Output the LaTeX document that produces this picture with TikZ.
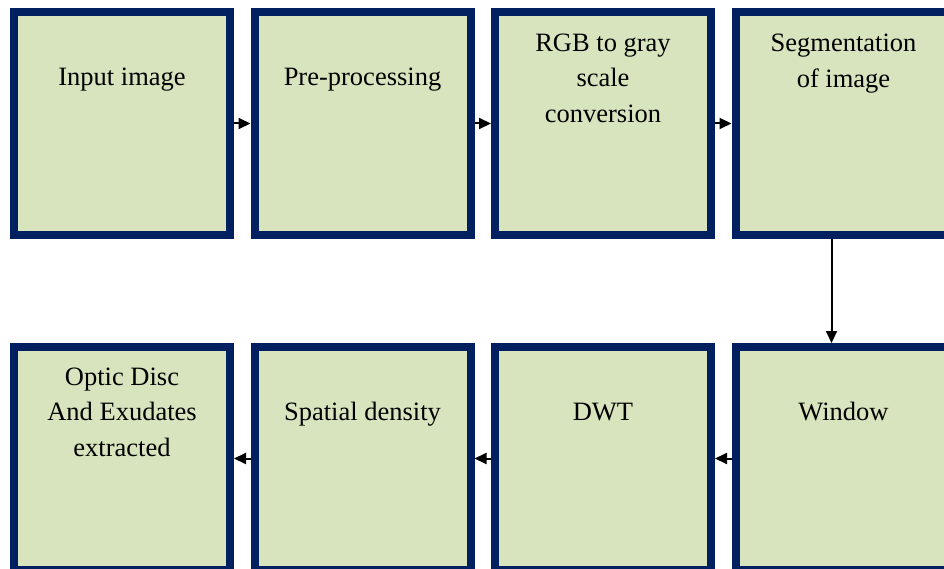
\documentclass[tikz,border=0pt]{standalone}
\usepackage{fontspec}
\setmainfont{Liberation Serif}
\usetikzlibrary{arrows.meta,positioning}
\definecolor{frame}{HTML}{002060}
\definecolor{boxfill}{HTML}{D7E4BD}
\tikzset{
  stepbox/.style={draw=frame, line width=8pt, fill=boxfill, minimum width=216pt, minimum height=223pt, inner sep=0pt},
  boxtext/.style={align=center, inner sep=0pt, font=\fontsize{26.5}{35.5}\selectfont},
  arrow/.style={-{Triangle[length=12pt,width=11pt]}, line width=2pt, draw=black}
}
\begin{document}
\begin{tikzpicture}[x=1pt, y=-1pt, node distance=16.5pt]
  \useasboundingbox (0,0) rectangle (944,569);
  \node[stepbox] (s1) at (122,123.5) {};
  \node[stepbox, right=of s1] (s2) {};
  \node[stepbox, right=of s2] (s3) {};
  \node[stepbox, right=of s3] (s4) {};

  \node[stepbox, below=104pt of s4] (win) {};
  \node[stepbox, left=of win] (dwt) {};
  \node[stepbox, left=of dwt] (dens) {};
  \node[stepbox, left=of dens] (out) {};

  \node[boxtext] (t1) at ([yshift=-72pt]s1.north) {Input image};
  \node[boxtext] (t2) at ([yshift=-72pt]s2.north) {Pre-processing};
  \node[boxtext] (t3) at ([yshift=-70pt]s3.north) {RGB to gray\\scale\\conversion};
  \node[boxtext] (t4) at ([yshift=-55.5pt]s4.north) {Segmentation\\of image};
  \node[boxtext] (t5) at ([yshift=-69pt]win.north) {Window};
  \node[boxtext] (t6) at ([yshift=-69pt]dwt.north) {DWT};
  \node[boxtext] (t7) at ([yshift=-71pt]dens.north) {Spatial density};
  \node[boxtext] (t8) at ([yshift=-69pt]out.north) {Optic Disc\\And Exudates\\extracted};

  \draw[arrow] (s1) -- (s2);
  \draw[arrow] (s2) -- (s3);
  \draw[arrow] (s3) -- (s4);
  \draw[arrow] ([xshift=-12pt]s4.south) -- ([xshift=-12pt]win.north);
  \draw[arrow] (win) -- (dwt);
  \draw[arrow] (dwt) -- (dens);
  \draw[arrow] (dens) -- (out);
\end{tikzpicture}
\end{document}
